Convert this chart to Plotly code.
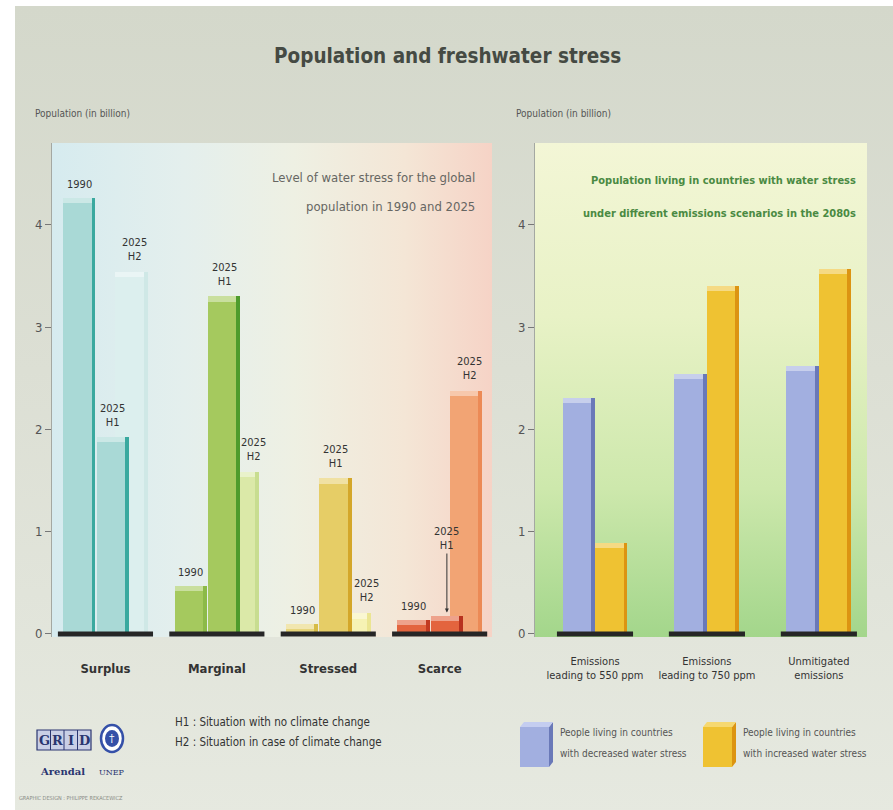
import base64
import plotly.graph_objects as go

# ---- data -------------------------------------------------------------
stress_levels = ["Surplus", "Marginal", "Stressed", "Scarce"]
pop_1990 = [4.26, 0.47, 0.10, 0.14]
pop_2025_h1 = [1.93, 3.30, 1.52, 0.18]
pop_2025_h2 = [3.54, 1.58, 0.20, 2.38]

scenarios = ["Emissions<br>leading to 550 ppm", "Emissions<br>leading to 750 ppm",
             "Unmitigated<br>emissions"]
pop_decreased = [2.31, 2.54, 2.62]
pop_increased = [0.89, 3.40, 3.57]

y_ticks = [0, 1, 2, 3, 4]

# ---- styling ----------------------------------------------------------
NARROW = "DejaVu Sans Condensed, Liberation Sans Narrow, Arial Narrow, sans-serif"
SERIF = "DejaVu Serif, Liberation Serif, serif"

face_1990 = ["#a9d9d6", "#a5c95e", "#e7d57a", "#e3643e"]
side_1990 = ["#3aa99f", "#8cba48", "#d6bb46", "#c23a22"]
face_h1 = ["#a9d9d6", "#a5c95e", "#e6cd66", "#e3643e"]
side_h1 = ["#3aa99f", "#4e9c2c", "#d4a72a", "#b8321e"]
face_h2 = ["#dcefee", "#dbe9a8", "#f6f2b4", "#f2a474"]
side_h2 = ["#cfe8e6", "#c8dd90", "#ebe592", "#ec8a56"]

BAR_W = 0.29
SIDE_W = 0.035
TOP_H = 0.05


def lighten(hex_color, amount=0.4):
    h = hex_color.lstrip("#")
    r, g, b = (int(h[k:k + 2], 16) for k in (0, 2, 4))
    r, g, b = (round(c + (255 - c) * amount) for c in (r, g, b))
    return f"#{r:02x}{g:02x}{b:02x}"


def gradient_uri(w, h, stops, vertical=False):
    x2, y2 = ("0", "1") if vertical else ("1", "0")
    st = "".join(f'<stop offset="{o}" stop-color="{c}"/>' for o, c in stops)
    svg = (f'<svg xmlns="http://www.w3.org/2000/svg" width="{w}" height="{h}" '
           f'viewBox="0 0 {w} {h}" preserveAspectRatio="none"><defs>'
           f'<linearGradient id="g" x1="0" y1="0" x2="{x2}" y2="{y2}">{st}'
           f'</linearGradient></defs><rect width="{w}" height="{h}" fill="url(#g)"/></svg>')
    return "data:image/svg+xml;base64," + base64.b64encode(svg.encode()).decode()


def px(xp, yp):
    """pixel position -> paper coordinates"""
    return xp / 893, 1 - yp / 810


fig = go.Figure()


def add_bar3d(values, xs, offset, face, side, xaxis, yaxis, name):
    """front face, darker right side and a lighter top face"""
    fig.add_trace(go.Bar(x=xs, y=values, offset=offset, width=BAR_W,
                         marker=dict(color=face, line=dict(width=0)),
                         xaxis=xaxis, yaxis=yaxis, name=name, showlegend=False,
                         hoverinfo="y"))
    fig.add_trace(go.Bar(x=xs, y=values, offset=offset + BAR_W - SIDE_W, width=SIDE_W,
                         marker=dict(color=side, line=dict(width=0)),
                         xaxis=xaxis, yaxis=yaxis, showlegend=False, hoverinfo="skip"))
    faces = face if isinstance(face, list) else [face] * len(values)
    fig.add_trace(go.Bar(x=xs, y=[TOP_H] * len(values), base=[v - TOP_H for v in values],
                         offset=offset, width=BAR_W - SIDE_W,
                         marker=dict(color=[lighten(c) for c in faces], line=dict(width=0)),
                         xaxis=xaxis, yaxis=yaxis, showlegend=False, hoverinfo="skip"))


# left panel: H2 sits behind H1
add_bar3d(pop_1990, stress_levels, -0.38, face_1990, side_1990, "x", "y", "1990")
add_bar3d(pop_2025_h2, stress_levels, 0.09, face_h2, side_h2, "x", "y", "2025 H2")
add_bar3d(pop_2025_h1, stress_levels, -0.08, face_h1, side_h1, "x", "y", "2025 H1")

# right panel
add_bar3d(pop_decreased, scenarios, -0.29, "#a2afe0", "#6a79b8", "x2", "y2",
          "decreased water stress")
add_bar3d(pop_increased, scenarios, 0.0, "#efc232", "#dc9412", "x2", "y2",
          "increased water stress")

# ---- panel backgrounds -------------------------------------------------
images = [
    dict(source=gradient_uri(880, 805, [(0, "#d4d8cb"), (0.45, "#dcdfd4"), (1, "#e6e9e0")],
                             vertical=True),
         xref="paper", yref="paper", x=15 / 893, y=1 - 6 / 810, sizex=1, sizey=1,
         xanchor="left", yanchor="top", sizing="stretch", layer="below"),
    dict(source=gradient_uri(440, 494, [(0, "#d6ebef"), (0.3, "#e4efed"), (0.55, "#eef0e3"),
                                        (0.8, "#f4e6d6"), (1, "#f6d3c6")]),
         xref="x domain", yref="y domain", x=0, y=1, sizex=1, sizey=1,
         xanchor="left", yanchor="top", sizing="stretch", layer="below"),
    dict(source=gradient_uri(332, 494, [(0, "#f3f6d6"), (0.35, "#e8f2c6"), (0.7, "#cde8ac"),
                                        (1, "#a3d68b")], vertical=True),
         xref="x2 domain", yref="y2 domain", x=0, y=1, sizex=1, sizey=1,
         xanchor="left", yanchor="top", sizing="stretch", layer="below"),
]

# ---- baselines under each group ----------------------------------------
shapes = []
for i in range(len(stress_levels)):
    shapes.append(dict(type="line", xref="x", yref="y", x0=i - 0.427, x1=i + 0.427,
                       y0=0, y1=0, line=dict(color="#262626", width=5)))
for i in range(len(scenarios)):
    shapes.append(dict(type="line", xref="x2", yref="y2", x0=i - 0.34, x1=i + 0.34,
                       y0=0, y1=0, line=dict(color="#262626", width=5)))

# ---- bar labels ---------------------------------------------------------
ann = []
lab_font = dict(family=NARROW, size=11, color="#333333")
for i in range(len(stress_levels)):
    ann.append(dict(x=i - 0.38 + BAR_W / 2, y=pop_1990[i], xref="x", yref="y",
                    text="1990", showarrow=False, yanchor="bottom", yshift=5, font=lab_font))
    if stress_levels[i] != "Scarce":
        ann.append(dict(x=i - 0.08 + BAR_W / 2, y=pop_2025_h1[i], xref="x", yref="y",
                        text="2025<br>H1", showarrow=False, yanchor="bottom", yshift=6,
                        font=lab_font))
    else:
        ann.append(dict(x=i - 0.08 + BAR_W / 2, y=pop_2025_h1[i], xref="x", yref="y",
                        text="2025<br>H1", showarrow=True, arrowhead=2, arrowsize=0.8,
                        arrowwidth=1, arrowcolor="#333333", ax=0, ay=-62,
                        yanchor="bottom", standoff=3, font=lab_font))
h2_dx = [3, 10, 12, 4]
for i in range(len(stress_levels)):
    ann.append(dict(x=i + 0.09 + BAR_W / 2, y=pop_2025_h2[i], xref="x", yref="y",
                    text="2025<br>H2", showarrow=False, yanchor="bottom", yshift=7,
                    xshift=h2_dx[i], font=lab_font))


def text_at(xp, yp, text, size, color, anchor="center", **font_kw):
    x, y = px(xp, yp)
    return dict(x=x, y=y, xref="paper", yref="paper", text=text, showarrow=False,
                xanchor=anchor, yanchor="middle",
                font=dict(family=font_kw.pop("family", NARROW), size=size, color=color,
                          **font_kw))


# ---- titles and texts ---------------------------------------------------
ann += [
    text_at(447, 56, "Population and freshwater stress", 20.5, "#454a43", weight="bold"),
    text_at(33, 113, "Population (in billion)", 10, "#555555", "left"),
    text_at(514, 113, "Population (in billion)", 10, "#555555", "left"),
    text_at(477, 177, "Level of water stress for the global", 13, "#666662", "right"),
    text_at(477, 207, "population in 1990 and 2025", 13, "#666662", "right"),
    text_at(858, 181, "Population living in countries with water stress", 11, "#4a8a42",
            "right", weight="bold"),
    text_at(858, 213, "under different emissions scenarios in the 2080s", 11, "#4a8a42",
            "right", weight="bold"),
    text_at(173, 722, "H1 : Situation with no climate change", 11.5, "#333333", "left"),
    text_at(173, 742, "H2 : Situation in case of climate change", 11.5, "#333333", "left"),
    text_at(558, 732, "People living in countries", 10, "#555555", "left"),
    text_at(558, 753, "with decreased water stress", 10, "#555555", "left"),
    text_at(741, 732, "People living in countries", 10, "#555555", "left"),
    text_at(741, 753, "with increased water stress", 10, "#555555", "left"),
    # logos and credit
    text_at(63, 771, "<b>Arendal</b>", 10, "#2a3570", family=SERIF),
    text_at(112, 772, "UNEP", 8, "#2a3570", family=SERIF),
    text_at(112, 738, "†", 11, "#ffffff", family=SERIF),
    text_at(17, 798, "GRAPHIC DESIGN : PHILIPPE REKACEWICZ", 5.5, "#8a8d86", "left"),
]
for letter, xc in zip("GRID", (44, 57.5, 71, 84)):
    ann.append(text_at(xc, 740, f"<b>{letter}</b>", 13, "#2a3570", family=SERIF))

# GRID box
gx0, gy0 = px(37, 730)
gx1, gy1 = px(91, 750)
shapes.append(dict(type="rect", xref="paper", yref="paper", x0=gx0, x1=gx1, y0=gy1, y1=gy0,
                   fillcolor="#c9cfe6", line=dict(color="#2a3570", width=1.2), layer="below"))
for xl in (50.5, 64, 77.5):
    shapes.append(dict(type="line", xref="paper", yref="paper", x0=xl / 893, x1=xl / 893,
                       y0=gy1, y1=gy0, line=dict(color="#2a3570", width=1), layer="below"))
# UNEP emblem
ux0, uy0 = px(101, 725)
ux1, uy1 = px(123, 752)
shapes.append(dict(type="circle", xref="paper", yref="paper", x0=ux0, x1=ux1, y0=uy1, y1=uy0,
                   fillcolor="#ffffff", line=dict(color="#3550a8", width=2.5), layer="below"))
ux0, uy0 = px(105, 730)
ux1, uy1 = px(119, 747)
shapes.append(dict(type="circle", xref="paper", yref="paper", x0=ux0, x1=ux1, y0=uy1, y1=uy0,
                   fillcolor="#3550a8", line=dict(width=0), layer="below"))

# legend swatches (front face, side face, top face)
for (xa, xb), face, side, top in [((520, 549), "#a2afe0", "#6a79b8", "#c4cdf0"),
                                  ((703, 732), "#efc232", "#dc9412", "#f6d870")]:
    x0, y0 = px(xa, 727)
    x1, y1 = px(xb, 767)
    sx1, sy1 = px(xb + 4, 722)
    shapes.append(dict(type="rect", xref="paper", yref="paper", x0=x0, x1=x1, y0=y1, y1=y0,
                       fillcolor=face, line=dict(width=0)))
    shapes.append(dict(type="path", xref="paper", yref="paper",
                       path=f"M{x1},{y1} L{sx1},{y1 + 5 / 810} L{sx1},{sy1} L{x1},{y0} Z",
                       fillcolor=side, line=dict(width=0)))
    shapes.append(dict(type="path", xref="paper", yref="paper",
                       path=f"M{x0},{y0} L{x0 + 4 / 893},{sy1} L{sx1},{sy1} L{x1},{y0} Z",
                       fillcolor=top, line=dict(width=0)))

yaxis_common = dict(range=[-0.03, 4.8], tickvals=y_ticks, ticks="outside", ticklen=6,
                    tickcolor="#777777", showline=True, linecolor="#a4a8a2", linewidth=1,
                    showgrid=False, zeroline=False, automargin=False,
                    tickfont=dict(family=NARROW, size=13, color="#555555"))

fig.update_layout(
    width=893, height=810, margin=dict(l=0, r=0, t=0, b=0, pad=0),
    paper_bgcolor="#ffffff", plot_bgcolor="rgba(0,0,0,0)",
    barmode="overlay", bargap=0, showlegend=False,
    xaxis=dict(domain=[52 / 893, 492 / 893], type="category", range=[-0.48, 3.47],
               showgrid=False, zeroline=False, showline=False, ticks="", automargin=False,
               ticklabelstandoff=22, tickangle=0,
               tickfont=dict(family=NARROW, size=13, color="#333333", weight="bold")),
    yaxis=dict(domain=[1 - 637 / 810, 1 - 143 / 810], anchor="x", **yaxis_common),
    xaxis2=dict(domain=[535 / 893, 867 / 893], type="category", range=[-0.536, 2.43],
                anchor="y2", showgrid=False, zeroline=False, showline=False, ticks="",
                automargin=False, ticklabelstandoff=16, tickangle=0,
                tickfont=dict(family=NARROW, size=11, color="#333333")),
    yaxis2=dict(domain=[1 - 637 / 810, 1 - 143 / 810], anchor="x2", **yaxis_common),
    images=images, shapes=shapes, annotations=ann,
)

fig.write_html("out.html")
